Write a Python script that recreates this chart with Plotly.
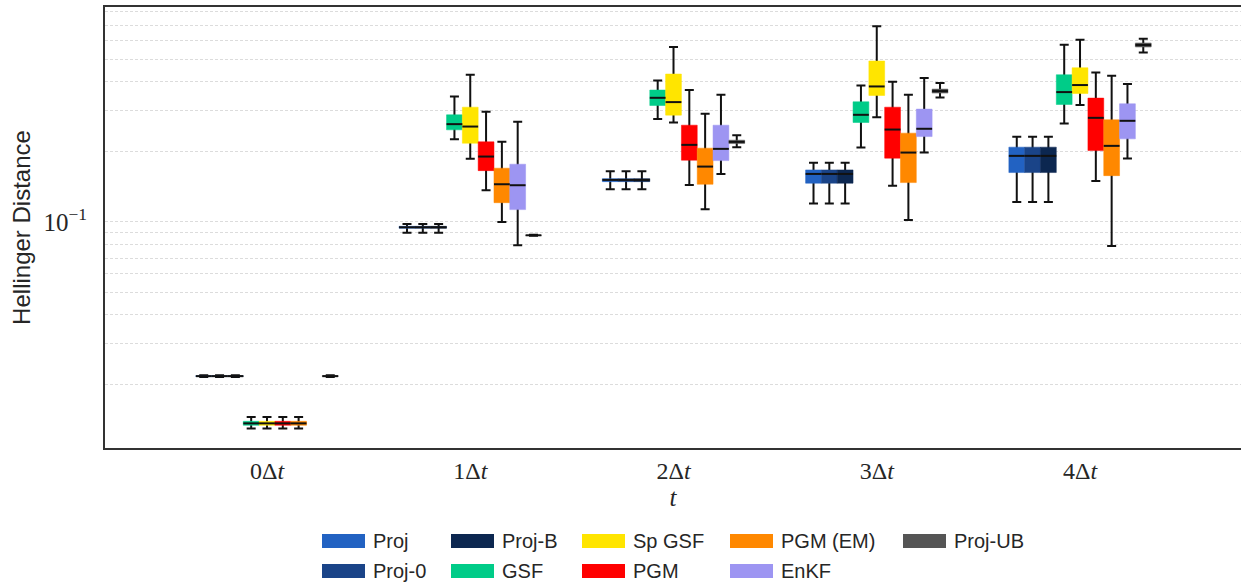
import plotly.graph_objects as go

# ---------------- data ----------------
TIME_LABELS = ["0Δ<i>t</i>", "1Δ<i>t</i>", "2Δ<i>t</i>", "3Δ<i>t</i>", "4Δ<i>t</i>"]
TIME_INDEX = [0, 1, 2, 3, 4]

SERIES = ["Proj", "Proj-0", "Proj-B", "GSF", "Sp GSF", "PGM", "PGM (EM)", "EnKF", "Proj-UB"]
COLORS = ["#2262C2", "#1A4488", "#0C2750", "#00CC88", "#FFE500", "#FF0000", "#FF8800", "#9D95F2", "#555555"]

# each row: [lower whisker, q1, median, q3, upper whisker] for t = 0..4
PROJ = [[0.0216, 0.0217, 0.0218, 0.0219, 0.0220],
        [0.0900, 0.0940, 0.0949, 0.0958, 0.0980],
        [0.1382, 0.1490, 0.1516, 0.1535, 0.1652],
        [0.1199, 0.1467, 0.1608, 0.1673, 0.1794],
        [0.1219, 0.1630, 0.1922, 0.2095, 0.2319]]
PROJ_0 = [[0.0216, 0.0217, 0.0218, 0.0219, 0.0220],
          [0.0900, 0.0940, 0.0949, 0.0958, 0.0980],
          [0.1382, 0.1490, 0.1516, 0.1535, 0.1652],
          [0.1199, 0.1467, 0.1608, 0.1673, 0.1794],
          [0.1219, 0.1630, 0.1922, 0.2095, 0.2319]]
PROJ_B = [[0.0216, 0.0217, 0.0218, 0.0219, 0.0220],
          [0.0900, 0.0940, 0.0949, 0.0958, 0.0980],
          [0.1382, 0.1490, 0.1516, 0.1535, 0.1652],
          [0.1199, 0.1467, 0.1608, 0.1673, 0.1794],
          [0.1219, 0.1630, 0.1922, 0.2095, 0.2319]]
GSF = [[0.0130, 0.01341, 0.01367, 0.01395, 0.01455],
       [0.2267, 0.2486, 0.2630, 0.2884, 0.3457],
       [0.2764, 0.3162, 0.3412, 0.3683, 0.4050],
       [0.2086, 0.2673, 0.2884, 0.3280, 0.3855],
       [0.2646, 0.3193, 0.3610, 0.4285, 0.5768]]
SP_GSF = [[0.0130, 0.01341, 0.01367, 0.01395, 0.01455],
          [0.1866, 0.2178, 0.2568, 0.3110, 0.4285],
          [0.2673, 0.2875, 0.3270, 0.4315, 0.5637],
          [0.2818, 0.3491, 0.3817, 0.4908, 0.6912],
          [0.3175, 0.3560, 0.3870, 0.4592, 0.6062]]
PGM = [[0.0130, 0.01341, 0.01367, 0.01395, 0.01455],
       [0.1369, 0.1661, 0.1909, 0.2208, 0.2971],
       [0.1442, 0.1842, 0.2143, 0.2603, 0.3683],
       [0.1432, 0.1879, 0.2493, 0.3110, 0.3998],
       [0.1501, 0.2025, 0.2799, 0.3402, 0.4384]]
PGM_EM = [[0.0130, 0.01341, 0.01367, 0.01395, 0.01455],
          [0.1000, 0.1210, 0.1452, 0.1702, 0.2208],
          [0.1134, 0.1452, 0.1729, 0.2074, 0.2912],
          [0.1020, 0.1476, 0.1986, 0.2406, 0.3516],
          [0.0789, 0.1581, 0.2122, 0.2745, 0.4243]]
ENKF = [None,
        [0.0794, 0.1130, 0.1438, 0.1770, 0.2692],
        [0.1608, 0.1834, 0.2060, 0.2603, 0.3516],
        [0.1986, 0.2326, 0.2512, 0.3051, 0.4147],
        [0.1871, 0.2274, 0.2718, 0.3216, 0.3908]]
PROJ_UB = [[0.0216, 0.0217, 0.0218, 0.0219, 0.0220],
           [0.0872, 0.0875, 0.0877, 0.0879, 0.0882],
           [0.2095, 0.2171, 0.2208, 0.2245, 0.2359],
           [0.3423, 0.3575, 0.3646, 0.3719, 0.3948],
           [0.5342, 0.5637, 0.5751, 0.5866, 0.6121]]

STATS = [PROJ, PROJ_0, PROJ_B, GSF, SP_GSF, PGM, PGM_EM, ENKF, PROJ_UB]

Y_TICKS = [0.1]
Y_TICK_TEXT = ["10<sup>−1</sup>"]
Y_MINOR = [0.02, 0.03, 0.04, 0.05, 0.06, 0.07, 0.08, 0.09, 0.2, 0.3, 0.4, 0.5, 0.6, 0.7, 0.8]

# ---------------- layout constants ----------------
W = 1241
H = 586
ML, MR, MT, MB = 105, 0, 7, 138
BOX_W = 0.0778
N = len(SERIES)

fig = go.Figure()


def positions(j):
    xs, rows = [], []
    for t, row in zip(TIME_INDEX, STATS[j]):
        if row is None:
            continue
        xs.append(t + (j - (N - 1) / 2) * BOX_W)
        rows.append(row)
    return xs, rows


# whiskers with caps (drawn first so boxes cover the inner part)
for j in range(N):
    xs, rows = positions(j)
    fig.add_trace(go.Scatter(
        x=xs, y=[r[2] for r in rows], mode="markers",
        marker=dict(size=1, opacity=0),
        error_y=dict(type="data", symmetric=False,
                     array=[r[4] - r[2] for r in rows],
                     arrayminus=[r[2] - r[0] for r in rows],
                     width=4.5, thickness=2, color="#111111"),
        showlegend=False, hoverinfo="skip"))

# box bodies
for j in range(N):
    xs, rows = positions(j)
    px, py = [], []
    for x, r in zip(xs, rows):
        x0, x1 = x - BOX_W / 2, x + BOX_W / 2
        px += [x0, x1, x1, x0, x0, None]
        py += [r[1], r[1], r[3], r[3], r[1], None]
    fig.add_trace(go.Scatter(
        x=px, y=py, mode="lines", fill="toself", fillcolor=COLORS[j],
        line=dict(color=COLORS[j], width=0.5),
        showlegend=False, hoverinfo="skip"))

# medians
for j in range(N):
    xs, rows = positions(j)
    px, py = [], []
    for x, r in zip(xs, rows):
        px += [x - BOX_W / 2, x + BOX_W / 2, None]
        py += [r[2], r[2], None]
    fig.add_trace(go.Scatter(
        x=px, y=py, mode="lines", line=dict(color="#111111", width=2),
        showlegend=False, hoverinfo="skip"))

# ---------------- manual legend (matplotlib style, column major, 5 cols) ----------------
plot_w = W - ML - MR
plot_h = H - MT - MB
COL_X = [322, 451, 582, 730, 903]
ROW_Y = [541, 571]
SW_W, SW_H = 43, 14
shapes, annotations = [], []
for j, (name, color) in enumerate(zip(SERIES, COLORS)):
    col, row = j // 2, j % 2
    x0 = COL_X[col]
    yc = ROW_Y[row]
    shapes.append(dict(type="rect", xref="paper", yref="paper",
                       x0=(x0 - ML) / plot_w, x1=(x0 + SW_W - ML) / plot_w,
                       y0=(H - MB - (yc - SW_H / 2)) / plot_h,
                       y1=(H - MB - (yc + SW_H / 2)) / plot_h,
                       fillcolor=color, line=dict(width=0)))
    annotations.append(dict(xref="paper", yref="paper",
                            x=(x0 + SW_W + 6 - ML) / plot_w,
                            y=(H - MB - yc) / plot_h,
                            xanchor="left", yanchor="middle", showarrow=False,
                            text=name,
                            font=dict(family="Liberation Sans", size=20, color="#262626")))

fig.update_layout(
    width=W, height=H,
    margin=dict(l=ML, r=MR, t=MT, b=MB, pad=0),
    paper_bgcolor="white", plot_bgcolor="white",
    showlegend=False,
    shapes=shapes, annotations=annotations,
    xaxis=dict(range=[-0.797, 4.792], tickmode="array", tickvals=TIME_INDEX,
               ticktext=TIME_LABELS, showgrid=False, zeroline=False,
               showline=True, linecolor="#333333", linewidth=2, mirror=True,
               ticks="", ticklabelstandoff=0,
               tickfont=dict(family="Liberation Serif", size=24, color="#262626"),
               title=dict(text="<i>t</i>", standoff=4,
                          font=dict(family="Liberation Serif", size=25, color="#262626"))),
    yaxis=dict(type="log", range=[-1.970, -0.0773], tickmode="array",
               tickvals=Y_TICKS, ticktext=Y_TICK_TEXT,
               showgrid=True, gridcolor="#dcdcdc", griddash="3px,2px", gridwidth=1,
               minor=dict(tickmode="array", tickvals=Y_MINOR, showgrid=True,
                          gridcolor="#dcdcdc", griddash="3px,2px", gridwidth=1, ticks=""),
               zeroline=False, showline=True, linecolor="#333333", linewidth=2,
               ticks="", ticklabelstandoff=11,
               tickfont=dict(family="Liberation Serif", size=25, color="#262626"),
               title=dict(text="Hellinger Distance", standoff=6,
                          font=dict(family="Liberation Sans", size=24, color="#262626"))),
)

fig.write_html("out.html")
